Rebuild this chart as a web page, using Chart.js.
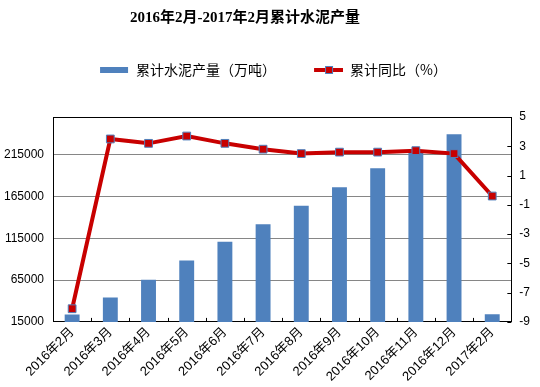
<!DOCTYPE html>
<html>
<head>
<meta charset="utf-8">
<script src="https://cdn.jsdelivr.net/npm/chart.js@4.4.1/dist/chart.umd.min.js"></script>
<style>
  html, body { margin: 0; padding: 0; background: #fff; }
  #wrap { position: relative; width: 540px; height: 387px; }
  #title { position: absolute; left: 0; top: 5px; width: 490px; text-align: center;
           font: bold 15px "Liberation Serif", "Noto Sans CJK SC", serif; color: #000; }
</style>
</head>
<body>
<div id="wrap">
  <canvas id="chart" width="540" height="387"></canvas>
  <div id="title">2016年2月-2017年2月累计水泥产量</div>
</div>
<script>
// data
const months = ["2016年2月", "2016年3月", "2016年4月", "2016年5月", "2016年6月", "2016年7月",
                "2016年8月", "2016年9月", "2016年10月", "2016年11月", "2016年12月", "2017年2月"];
const output = [23800, 44300, 65300, 88300, 110700, 131700, 153800, 175900, 198800, 220200, 239500, 24300];
const growth = [-8.1, 3.5, 3.2, 3.7, 3.2, 2.8, 2.5, 2.6, 2.6, 2.7, 2.5, -0.4];
const leftTicks = [15000, 65000, 115000, 165000, 215000];
const rightTicks = [5, 3, 1, -1, -3, -5, -7, -9];

const BLUE = "#4F81BD";
const RED = "#C80000";
const TICK_FONT = { family: "'Liberation Sans', Arial, 'Noto Sans CJK SC'", size: 12 };

// legend icons drawn into small canvases
function icon(w, h, draw){
  const c = document.createElement("canvas");
  c.width = w; c.height = h;
  draw(c.getContext("2d"));
  return c;
}
const barIcon = icon(42, 8, g=>{
  g.fillStyle = BLUE;
  g.fillRect(13, 1, 28, 6);
});
const lineIcon = icon(42, 10, g=>{
  g.strokeStyle = RED; g.lineWidth = 4;
  g.beginPath(); g.moveTo(13, 5); g.lineTo(42, 5); g.stroke();
  g.fillStyle = RED; g.fillRect(24, 1, 8, 8);
  g.strokeStyle = BLUE; g.lineWidth = 1; g.strokeRect(24.5, 1.5, 7, 7);
});

// short tick marks pointing into the plot (x boundaries, right axis) + top frame line
const innerTicks = {
  id: "innerTicks",
  afterDraw(chart){
    const {ctx, chartArea: a, scales} = chart;
    ctx.save();
    ctx.strokeStyle = "#000";
    ctx.lineWidth = 1;
    ctx.beginPath();
    ctx.moveTo(a.left, a.top + 0.5); ctx.lineTo(a.right, a.top + 0.5);
    for(let i = 0; i <= months.length; i++){
      const x = Math.round(scales.x.getPixelForValue(i - 0.5)) + 0.5;
      ctx.moveTo(x, a.bottom); ctx.lineTo(x, a.bottom - 4);
    }
    rightTicks.forEach(v=>{
      const y = Math.round(scales.y1.getPixelForValue(v)) + 0.5;
      ctx.moveTo(a.right, y); ctx.lineTo(a.right - 4, y);
    });
    ctx.stroke();
    ctx.restore();
  }
};

new Chart(document.getElementById("chart"), {
  data: {
    labels: months,
    datasets: [
      { type: "line", label: "累计同比（%）", data: growth, xAxisID: "x", yAxisID: "y1", order: 1,
        borderColor: RED, borderWidth: 4, tension: 0,
        pointStyle: "rect", pointRadius: 5.5, pointBackgroundColor: RED,
        pointBorderColor: BLUE, pointBorderWidth: 1 },
      { type: "bar", label: "累计水泥产量（万吨）", data: output, xAxisID: "x", yAxisID: "y", order: 2,
        backgroundColor: BLUE, categoryPercentage: 1, barPercentage: 0.39 }
    ]
  },
  options: {
    responsive: false,
    animation: false,
    layout: { padding: { top: 38, left: 4, right: 10, bottom: 0 } },
    plugins: {
      tooltip: { enabled: false },
      legend: {
        position: "top",
        labels: {
          usePointStyle: true, pointStyleWidth: 42, padding: 25,
          color: "#333", font: { family: "'Noto Sans CJK SC'", size: 14 },
          generateLabels: ()=>[
            { text: "累计水泥产量（万吨）", pointStyle: barIcon, fillStyle: BLUE, strokeStyle: BLUE, lineWidth: 0, hidden: false, datasetIndex: 1 },
            { text: "累计同比（%）", pointStyle: lineIcon, fillStyle: RED, strokeStyle: RED, lineWidth: 0, hidden: false, datasetIndex: 0 }
          ]
        }
      }
    },
    scales: {
      spacer: {
        position: "top", type: "linear", display: true,
        ticks: { display: false }, grid: { display: false, drawTicks: false }, border: { display: false },
        afterFit: s=>{ s.height = 30; }
      },
      x: {
        type: "category", offset: true,
        grid: { display: false, drawTicks: false },
        border: { color: "#000", width: 1 },
        ticks: { color: "#000", font: { ...TICK_FONT, size: 13 }, maxRotation: 45, minRotation: 45, padding: 2.5, autoSkip: false }
      },
      y: {
        position: "left", min: 15000, max: 260000,
        afterBuildTicks: s=>{ s.ticks = leftTicks.map(v=>({ value: v })); },
        afterFit: s=>{ s.width -= 9; },
        grid: { color: "#868686", drawTicks: false },
        border: { color: "#000", width: 1 },
        ticks: { color: "#000", font: TICK_FONT, padding: 9, callback: v=>String(v) }
      },
      y1: {
        position: "right", min: -9, max: 5,
        afterBuildTicks: s=>{ s.ticks = rightTicks.map(v=>({ value: v })); },
        afterFit: s=>{ s.width -= 8; },
        grid: { drawOnChartArea: false, drawTicks: false },
        border: { color: "#000", width: 1 },
        ticks: { color: "#000", font: TICK_FONT, padding: 8, callback: v=>String(v) }
      }
    }
  },
  plugins: [innerTicks]
});
</script>
</body>
</html>
